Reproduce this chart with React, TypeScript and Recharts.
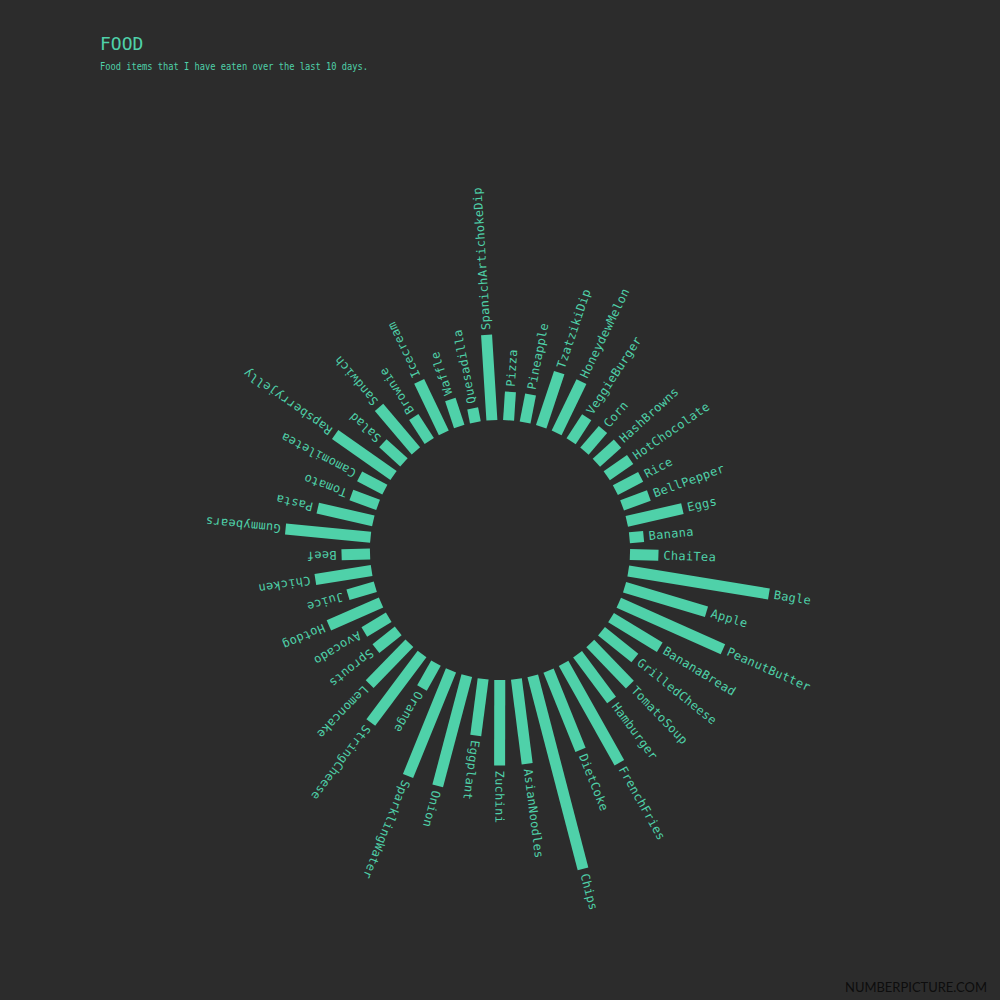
import React from 'react';
import { RadialBarChart, RadialBar, PolarAngleAxis, PolarRadiusAxis } from 'recharts';

const foods = [
  'ChaiTea', 'Bagle', 'Apple', 'PeanutButter', 'BananaBread', 'GrilledCheese', 'TomatoSoup',
  'Hamburger', 'FrenchFries', 'DietCoke', 'Chips', 'AsianNoodles', 'Zuchini', 'Eggplant',
  'Onion', 'SparklingWater', 'Orange', 'StringCheese', 'Lemoncake', 'Sprouts', 'Avocado',
  'Hotdog', 'Juice', 'Chicken', 'Beef', 'Gummybears', 'Pasta', 'Tomato', 'Camomiletea',
  'Rapsberryjelly', 'Salad', 'Sandwich', 'Brownie', 'Icecream', 'Waffle', 'Quesadilla',
  'SpanichArtichokeDip', 'Pizza', 'Pineapple', 'TzatzikiDip', 'HoneydewMelon', 'VeggieBurger',
  'Corn', 'HashBrowns', 'HotChocolate', 'Rice', 'BellPepper', 'Eggs', 'Banana',
];

const servings = [
  1, 5, 3, 4, 2, 1.5, 2,
  2, 4, 3, 7, 3, 3, 2,
  4, 4, 1, 3, 2, 1, 1,
  2, 1, 2, 1, 3, 2, 1, 1,
  2.5, 1, 2, 1, 2, 1, 0.5,
  3, 1, 1, 2, 2, 1,
  1, 1, 1, 1, 1, 2, 0.5,
];

const radiusDomain = [0, 10];

const data = foods.map((name, i) => ({ name, value: servings[i] }));

const BG = '#2c2c2c';
const GREEN = '#4fd1a9';

const BAND = 360 / foods.length;
const START = -2 - BAND / 2;
const END = START - 360;

function RayBar(props: any) {
  const { cx, cy, innerRadius, outerRadius, startAngle, endAngle, payload } = props;
  const theta = (startAngle + endAngle) / 2;
  const rad = (theta * Math.PI) / 180;
  const dx = Math.cos(rad);
  const dy = -Math.sin(rad);
  const px = -dy;
  const py = dx;
  const hw = 5.5;
  const pts = [
    [innerRadius, -hw],
    [outerRadius, -hw],
    [outerRadius, hw],
    [innerRadius, hw],
  ]
    .map(([r, o]) => `${cx + dx * r + px * o},${cy + dy * r + py * o}`)
    .join(' ');
  const lr = outerRadius + 5;
  const lx = cx + dx * lr;
  const ly = cy + dy * lr;
  const label = (payload && payload.name) || props.name;
  return (
    <g>
      <polygon points={pts} fill={GREEN} />
      <text
        x={lx}
        y={ly}
        transform={`rotate(${-theta} ${lx} ${ly})`}
        textAnchor="start"
        dominantBaseline="central"
        fill={GREEN}
        fontFamily="'DejaVu Sans Mono', monospace"
        fontSize={12}
        letterSpacing={0.3}
      >
        {label}
      </text>
    </g>
  );
}

export default function App() {
  return (
    <div style={{ position: 'fixed', left: 0, top: 0, width: 1000, height: 1000, background: BG }}>
      <RadialBarChart
        width={1000}
        height={1000}
        cx={500}
        cy={550}
        innerRadius={130}
        outerRadius={415}
        startAngle={START}
        endAngle={END}
        layout="centric"
        data={data}
        margin={{ top: 0, right: 0, bottom: 0, left: 0 }}
      >
        <PolarAngleAxis dataKey="name" type="category" tick={false} axisLine={false} tickLine={false} />
        <PolarRadiusAxis type="number" domain={radiusDomain} tick={false} axisLine={false} tickLine={false} />
        <RadialBar dataKey="value" isAnimationActive={false} shape={RayBar} />
      </RadialBarChart>
      <svg width={1000} height={1000} style={{ position: 'absolute', left: 0, top: 0, pointerEvents: 'none' }}>
        <text x={100} y={50} fill={GREEN} fontFamily="'DejaVu Sans Mono', monospace" fontSize={18}>
          FOOD
        </text>
        <text
          x={100}
          y={70}
          fill={GREEN}
          fontFamily="'DejaVu Sans Mono', monospace"
          fontSize={11}
          textLength={268}
          lengthAdjust="spacingAndGlyphs"
        >
          Food items that I have eaten over the last 10 days.
        </text>
        <text
          x={845}
          y={992}
          fill="#0d0d0d"
          style={{ fill: '#0d0d0d' }}
          fontFamily="Lato, sans-serif"
          fontSize={14}
          textLength={142}
          lengthAdjust="spacingAndGlyphs"
        >
          NUMBERPICTURE.COM
        </text>
      </svg>
    </div>
  );
}
